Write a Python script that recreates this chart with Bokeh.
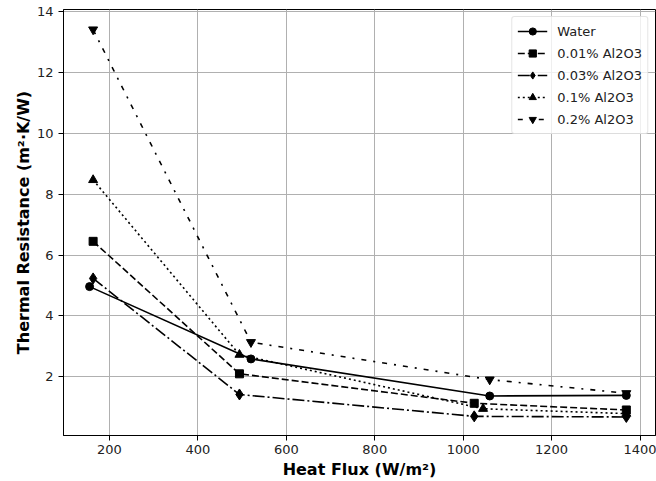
import numpy as np
from bokeh.plotting import figure
from bokeh.models import Range1d, FixedTicker
from bokeh.embed import file_html
from bokeh.resources import INLINE

# Data
water_x = [155, 520, 1060, 1369]
water_y = [4.96, 2.58, 1.36, 1.38]

al001_x = [163, 494, 1025, 1369]
al001_y = [6.45, 2.09, 1.12, 0.90]

al003_x = [163, 494, 1025, 1369]
al003_y = [5.23, 1.41, 0.69, 0.67]

al01_x = [163, 494, 1045, 1369]
al01_y = [8.47, 2.72, 0.94, 0.78]

al02_x = [163, 520, 1060, 1369]
al02_y = [13.42, 3.13, 1.90, 1.45]

labels = ["Water", "0.01% Al2O3", "0.03% Al2O3", "0.1% Al2O3", "0.2% Al2O3"]
x_ticks = [200, 400, 600, 800, 1000, 1200, 1400]
y_ticks = [2, 4, 6, 8, 10, 12, 14]

FONT = "DejaVu Sans"

p = figure(width=656, height=481, output_backend="svg", toolbar_location=None,
           x_range=Range1d(96, 1435), y_range=Range1d(0.06, 14.08),
           min_border_left=63, min_border_right=1, min_border_top=9, min_border_bottom=0)

p.background_fill_color = "white"
p.border_fill_color = "white"
p.outline_line_color = "black"
p.outline_line_width = 1

for ax in (p.xaxis, p.yaxis):
    ax.axis_line_color = "black"
    ax.axis_line_width = 1
    ax.major_tick_line_color = "black"
    ax.major_tick_out = 5
    ax.major_tick_in = 0
    ax.minor_tick_line_color = None
    ax.major_label_text_font = FONT
    ax.major_label_text_font_size = "13px"
    ax.major_label_text_color = "#222222"
    ax.axis_label_text_font = FONT
    ax.axis_label_text_font_size = "16px"
    ax.axis_label_text_font_style = "bold"
    ax.axis_label_text_color = "black"

p.xaxis.ticker = FixedTicker(ticks=x_ticks)
p.yaxis.ticker = FixedTicker(ticks=y_ticks)
p.xaxis.major_label_standoff = 4
p.xaxis.axis_label_standoff = 3
p.yaxis.major_label_standoff = 5
p.yaxis.axis_label_standoff = 1
p.xaxis.axis_label = "Heat Flux (W/m²)"
p.yaxis.axis_label = "Thermal Resistance (m²·K/W)"

p.xgrid.ticker = FixedTicker(ticks=x_ticks)
p.ygrid.ticker = FixedTicker(ticks=y_ticks)
p.grid.grid_line_color = "#b0b0b0"
p.grid.grid_line_width = 1

LW = 1.6
series = [
    (water_x, water_y, labels[0], "solid", "circle", 8),
    (al001_x, al001_y, labels[1], "7 3", "square", 8),
    (al003_x, al003_y, labels[2], "12 3 2 3", "diamond", 11),
    (al01_x, al01_y, labels[3], "2 3", "triangle", 9),
    (al02_x, al02_y, labels[4], "5 7 2 7", "inverted_triangle", 9),
]

for xs, ys, lab, dash, marker, size in series:
    p.line(xs, ys, line_color="black", line_width=LW, line_dash=dash, legend_label=lab)
    p.scatter(xs, ys, marker=marker, size=size,
              fill_color="black", line_color="black", legend_label=lab)

lg = p.legend[0]
lg.location = "top_right"
lg.margin = 7
lg.padding = 5
lg.spacing = 4
lg.label_height = 18
lg.glyph_height = 18
lg.glyph_width = 30
lg.label_standoff = 10
lg.label_text_font = FONT
lg.label_text_font_size = "13px"
lg.label_text_color = "#222222"
lg.border_line_color = "#cccccc"
lg.border_line_width = 1
lg.background_fill_color = "white"
lg.background_fill_alpha = 0.8
lg.border_radius = 3

open("out.html", "w").write(file_html(p, INLINE))
